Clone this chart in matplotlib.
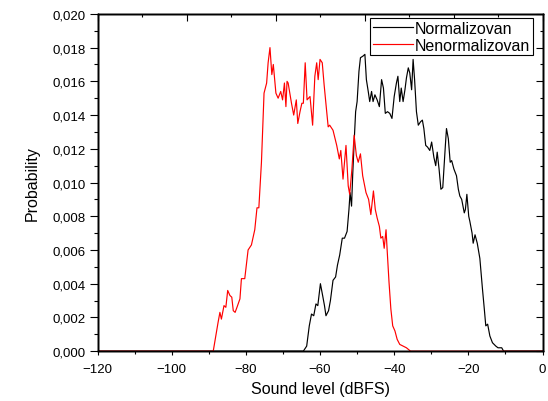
import matplotlib
matplotlib.use("Agg")
import matplotlib.pyplot as plt
from matplotlib.ticker import FuncFormatter, MultipleLocator, FixedLocator, NullFormatter

plt.rcParams['font.family'] = ['Liberation Sans', 'DejaVu Sans']

# Sound level (dBFS) and probability for the normalized (black) series
norm_x = [-120, -64.5, -63.6, -62.9, -62.3, -61.7, -61.1, -60.6, -59.9, -59.3, -58.8, -58.4,
          -57.7, -57.2, -56.5, -55.8, -55.3, -54.7, -54.0, -53.4, -52.7, -52.2, -51.9, -51.5,
          -51.2, -50.8, -50.4, -50.0, -49.5, -49.1, -48.4, -47.9, -47.5, -47.0, -46.6, -46.1,
          -45.7, -45.2, -44.6, -44.0, -43.4, -42.9, -42.4, -41.8, -41.2, -40.6, -40.0, -39.4,
          -39.0, -38.5, -38.1, -37.6, -37.1, -36.7, -36.2, -35.8, -35.3, -34.9, -34.5, -34.0,
          -33.5, -32.9, -32.4, -32.0, -31.5, -31.0, -30.4, -29.9, -29.3, -28.8, -28.4, -27.9,
          -27.4, -26.9, -26.2, -25.9, -25.4, -24.9, -24.5, -23.9, -23.2, -22.7, -22.3, -21.8,
          -21.1, -20.8, -20.4, -19.9, -19.6, -19.0, -18.7, -18.2, -17.6, -16.9, -16.2, -15.7,
          -15.3, -14.8, -14.2, -13.5, -12.6, -12.0, -11.0, -10.5, 0]
norm_y = [0, 0, 0.0003, 0.0015, 0.0022, 0.0021, 0.0028, 0.0027, 0.0040, 0.0033, 0.0027, 0.0021,
          0.0024, 0.0030, 0.0042, 0.0044, 0.0051, 0.0057, 0.0067, 0.0067, 0.0071, 0.0084, 0.0094, 0.0086,
          0.0104, 0.0124, 0.0142, 0.0148, 0.0166, 0.0174, 0.0175, 0.0176, 0.0161, 0.0154, 0.0148, 0.0154,
          0.0148, 0.0152, 0.0149, 0.0145, 0.0161, 0.0156, 0.0141, 0.0142, 0.0141, 0.0138, 0.0151, 0.0159,
          0.0163, 0.0148, 0.0156, 0.0148, 0.0155, 0.0162, 0.0168, 0.0165, 0.0155, 0.0173, 0.0161, 0.0142,
          0.0134, 0.0136, 0.0137, 0.0132, 0.0122, 0.0121, 0.0119, 0.0124, 0.0115, 0.0110, 0.0118, 0.0108,
          0.0096, 0.0097, 0.0122, 0.0132, 0.0126, 0.0112, 0.0113, 0.0108, 0.0104, 0.0096, 0.0092, 0.0090,
          0.0082, 0.0084, 0.0093, 0.0080, 0.0077, 0.0070, 0.0064, 0.0069, 0.0064, 0.0055, 0.0037, 0.0025,
          0.0015, 0.0016, 0.0009, 0.0005, 0.0003, 0.0002, 0.0002, 0, 0]

# Sound level (dBFS) and probability for the non-normalized (red) series
raw_x = [-120, -88.8, -87.5, -87.0, -86.6, -85.9, -85.4, -84.9, -84.3, -83.8, -83.4, -82.9,
         -82.4, -81.6, -81.2, -80.3, -79.4, -78.5, -77.6, -77.0, -76.5, -75.8, -75.1, -74.4,
         -74.0, -73.5, -73.0, -72.6, -71.9, -71.3, -70.6, -70.1, -69.6, -69.2, -68.9, -68.6,
         -67.7, -67.1, -66.4, -66.0, -65.4, -64.9, -64.5, -64.0, -63.5, -62.7, -62.0, -61.4,
         -60.9, -60.5, -60.0, -59.4, -58.9, -58.2, -57.8, -57.4, -56.5, -55.5, -54.8, -54.4,
         -53.8, -53.0, -52.4, -52.0, -51.4, -50.8, -50.2, -49.7, -49.1, -48.5, -47.6, -46.9,
         -46.3, -45.6, -45.1, -44.6, -44.0, -43.6, -43.1, -42.7, -42.2, -41.9, -41.4, -40.9,
         -40.4, -39.8, -39.2, -38.5, -37.6, -36.7, -35.6, 0]
raw_y = [0, 0, 0.0017, 0.0023, 0.0019, 0.0027, 0.0026, 0.0036, 0.0033, 0.0032, 0.0024, 0.0023,
         0.0026, 0.0031, 0.0043, 0.0043, 0.0060, 0.0063, 0.0072, 0.0085, 0.0085, 0.0112, 0.0153, 0.0159,
         0.0171, 0.0180, 0.0164, 0.0170, 0.0153, 0.0150, 0.0154, 0.0149, 0.0159, 0.0145, 0.0160, 0.0159,
         0.0147, 0.0140, 0.0149, 0.0135, 0.0142, 0.0147, 0.0147, 0.0171, 0.0149, 0.0151, 0.0134, 0.0163,
         0.0171, 0.0161, 0.0173, 0.0171, 0.0158, 0.0142, 0.0133, 0.0134, 0.0131, 0.0122, 0.0114, 0.0119,
         0.0102, 0.0122, 0.0098, 0.0093, 0.0108, 0.0128, 0.0116, 0.0112, 0.0117, 0.0104, 0.0094, 0.0090,
         0.0081, 0.0095, 0.0084, 0.0079, 0.0074, 0.0067, 0.0068, 0.0061, 0.0072, 0.0060, 0.0041, 0.0025,
         0.0015, 0.0012, 0.0007, 0.0004, 0.0003, 0.0002, 0, 0]

series_labels = ["Normalizovan", "Nenormalizovan"]
x_label = "Sound level (dBFS)"
y_label = "Probability"

fig = plt.figure(figsize=(5.48, 4.02), dpi=100)
ax = fig.add_axes([0.178, 0.124, 0.812, 0.839])

ax.plot(norm_x, norm_y, color='black', lw=0.85, label=series_labels[0])
ax.plot(raw_x, raw_y, color='#ff0000', lw=0.85, label=series_labels[1])

ax.set_xlim(-120, 0)
ax.set_ylim(0, 0.020)

# Top axis (inward ticks, no labels)
axt = ax.twiny()
axt.set_xlim(-120, 0)
axt.xaxis.set_major_locator(FixedLocator([-120, -96, -72, -48, -24, 0]))
axt.xaxis.set_minor_locator(FixedLocator([-108, -84, -60, -36, -12]))
axt.xaxis.set_major_formatter(NullFormatter())
axt.tick_params(axis='x', which='major', direction='in', length=4.8, width=0.8)
axt.tick_params(axis='x', which='minor', direction='in', length=2.4, width=0.8)

# Right axis (inward ticks, no labels)
axr = ax.twinx()
axr.set_ylim(0, 0.020)
axr.yaxis.set_major_locator(MultipleLocator(0.002))
axr.yaxis.set_minor_locator(MultipleLocator(0.001))
axr.yaxis.set_major_formatter(NullFormatter())
axr.tick_params(axis='y', which='major', direction='in', length=4.8, width=0.8)
axr.tick_params(axis='y', which='minor', direction='in', length=2.4, width=0.8)

ax.xaxis.set_major_locator(MultipleLocator(20))
ax.xaxis.set_minor_locator(MultipleLocator(10))
ax.yaxis.set_major_locator(MultipleLocator(0.002))
ax.yaxis.set_minor_locator(MultipleLocator(0.001))
ax.yaxis.set_major_formatter(FuncFormatter(lambda v, p: f"{v:.3f}".replace('.', ',')))

ax.tick_params(axis='x', which='major', direction='out', length=3.2, width=0.8, labelsize=9.5, pad=5)
ax.tick_params(axis='x', which='minor', direction='out', length=2.4, width=0.8)
ax.tick_params(axis='y', which='major', direction='out', length=5.5, width=0.8, labelsize=9.5, pad=3)
ax.tick_params(axis='y', which='minor', direction='out', length=3, width=0.8)
for a in (ax, axt, axr):
    for s in a.spines.values():
        s.set_linewidth(1.0)

ax.set_xlabel(x_label, fontsize=11.5, labelpad=5)
ax.set_ylabel(y_label, fontsize=11.5, labelpad=9)

leg = axr.legend(*ax.get_legend_handles_labels(), loc='upper right',
                 bbox_to_anchor=(0.978, 0.987), borderaxespad=0,
                 fontsize=11.5, handlelength=2.5, handletextpad=0.15, borderpad=0.15,
                 labelspacing=0.12, fancybox=False, framealpha=1, edgecolor='black')
leg.get_frame().set_linewidth(0.8)

fig.savefig("out.png", dpi=100)
